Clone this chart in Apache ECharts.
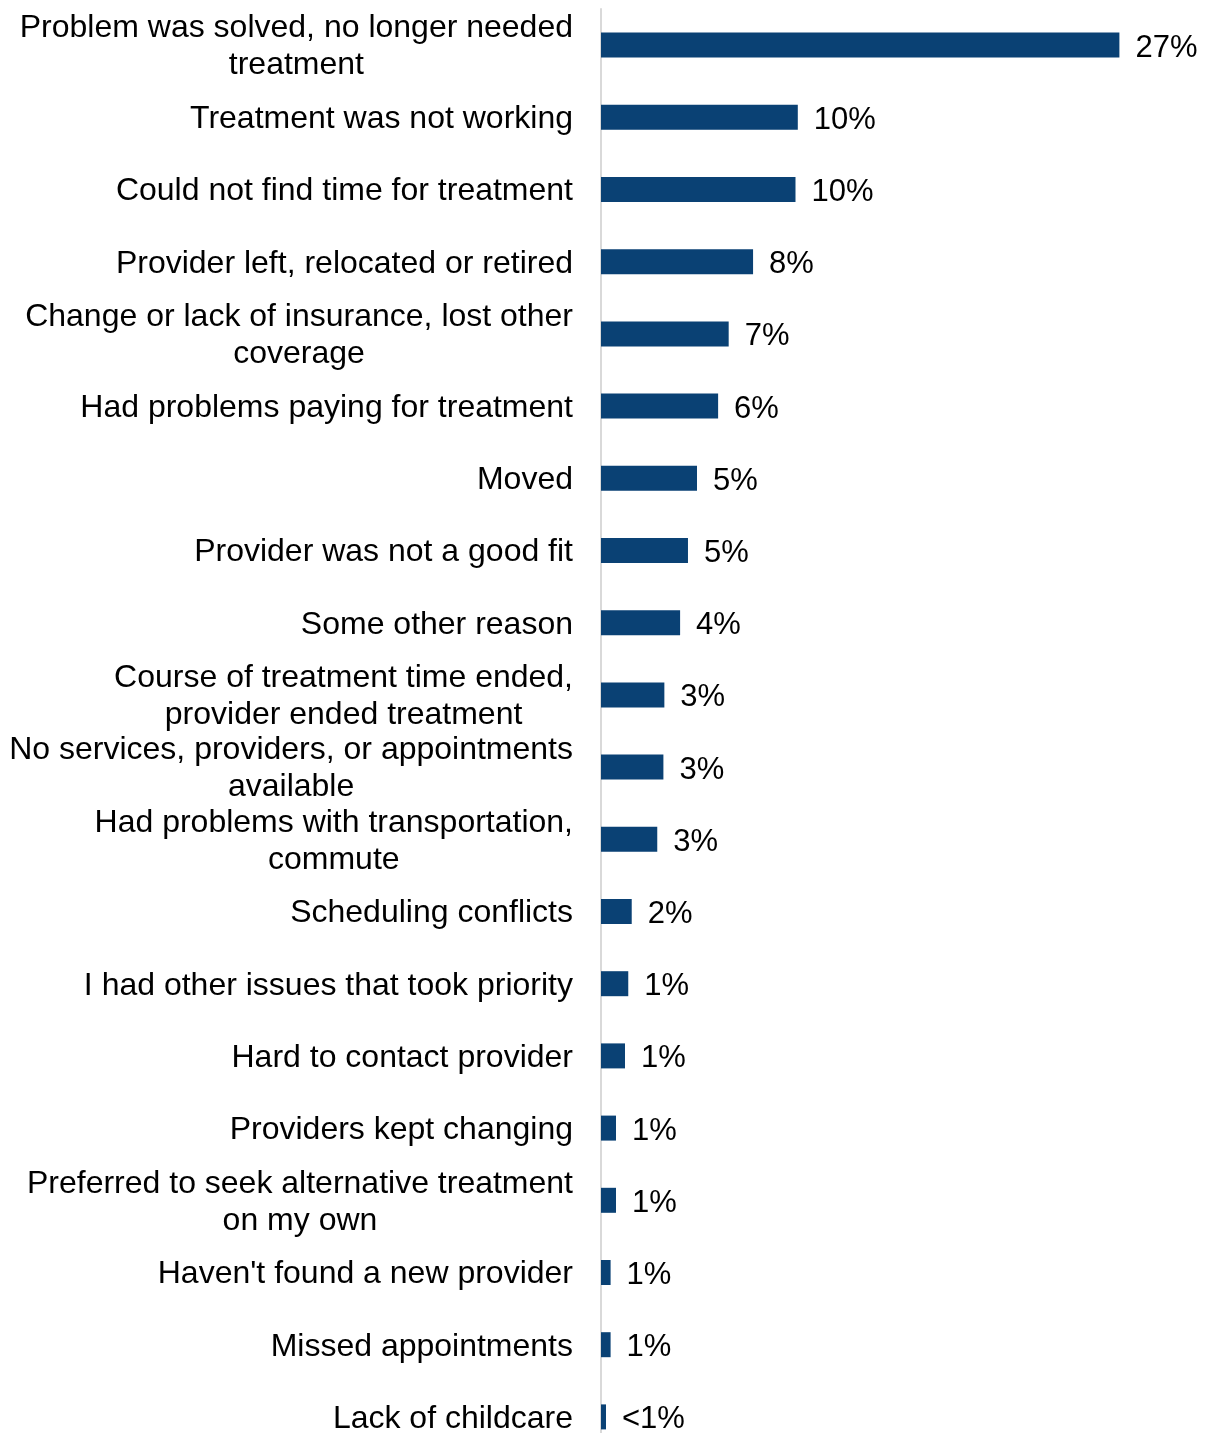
<!DOCTYPE html>
<html>
<head>
<meta charset="utf-8">
<title>Reasons for stopping treatment</title>
<script src="https://cdn.jsdelivr.net/npm/echarts@6/dist/echarts.min.js"></script>
<style>
  html, body { margin: 0; padding: 0; background: #ffffff; width: 1212px; height: 1433px; overflow: hidden; }
  /* the plot runs a little past the bottom of the page, so the last band is cut off */
  #chart { width: 1212px; height: 1453px; }
</style>
</head>
<body>
<div id="chart"></div>
<script>
// Reasons, top to bottom; "\n" marks where a long label wraps
const reasons = [
  'Problem was solved, no longer needed\ntreatment',
  'Treatment was not working',
  'Could not find time for treatment',
  'Provider left, relocated or retired',
  'Change or lack of insurance, lost other\ncoverage',
  'Had problems paying for treatment',
  'Moved',
  'Provider was not a good fit',
  'Some other reason',
  'Course of treatment time ended,\nprovider ended treatment',
  'No services, providers, or appointments\navailable',
  'Had problems with transportation,\ncommute',
  'Scheduling conflicts',
  'I had other issues that took priority',
  'Hard to contact provider',
  'Providers kept changing',
  'Preferred to seek alternative treatment\non my own',
  "Haven't found a new provider",
  'Missed appointments',
  'Lack of childcare'
];

// Share of respondents (%)
const shares = [
  27.0, 10.25, 10.13, 7.92, 6.65, 6.10, 5.0, 4.53, 4.12, 3.30,
  3.25, 2.93, 1.60, 1.42, 1.25, 0.78, 0.78, 0.5, 0.5, 0.26
];

const FONT = '"Liberation Sans", Arial, Helvetica, sans-serif';
const BAR_COLOR = '#0a4174';

function shareText(v) {
  return v < 0.5 ? '<1%' : Math.round(v) + '%';
}

const chart = echarts.init(document.getElementById('chart'), null, { renderer: 'canvas' });

chart.setOption({
  animation: false,
  backgroundColor: '#ffffff',
  grid: { left: 601, right: 35, top: 9, bottom: 0, containLabel: false },
  xAxis: {
    type: 'value',
    min: 0,
    max: 30,
    show: false
  },
  yAxis: {
    type: 'category',
    data: reasons,
    inverse: true,
    axisLine: { show: true, lineStyle: { color: '#d9d9d9', width: 2 } },
    axisTick: { show: false },
    splitLine: { show: false },
    axisLabel: {
      margin: 28,
      align: 'right',
      padding: [4, 0, 0, 0],
      color: '#000000',
      fontFamily: FONT,
      fontSize: 32,
      lineHeight: 37,
      formatter: function (text) {
        // each wrapped line is centred inside the right-aligned label block
        return text.split('\n').map(function (l) { return '{c|' + l + '}'; }).join('\n');
      },
      rich: {
        c: {
          align: 'center',
          color: '#000000',
          fontFamily: FONT,
          fontSize: 32,
          lineHeight: 37
        }
      }
    }
  },
  series: [{
    type: 'bar',
    data: shares,
    barWidth: 25,
    itemStyle: { color: BAR_COLOR },
    label: {
      show: true,
      position: 'right',
      distance: 16,
      offset: [0, 3],
      color: '#000000',
      fontFamily: FONT,
      fontSize: 31,
      formatter: function (p) { return shareText(p.value); }
    }
  }]
});
</script>
</body>
</html>
